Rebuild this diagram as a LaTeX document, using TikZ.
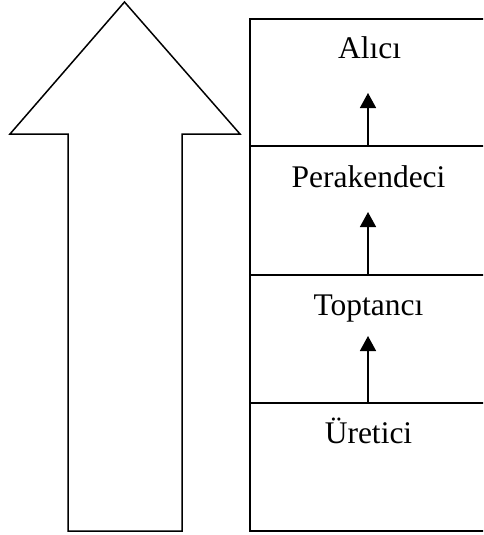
\documentclass[tikz,border=0pt]{standalone}
\usepackage{fontspec}
\setmainfont{Liberation Serif}
\usetikzlibrary{arrows.meta}
\begin{document}
\begin{tikzpicture}[x=1pt,y=-1pt,
  outline/.style={line width=1.5pt,line join=miter},
  level/.style={font=\fontsize{31.5}{36}\selectfont,anchor=base,inner sep=0pt},
  flow/.style={line width=1.5pt,-{Triangle[width=16pt,length=15pt]}}]
\useasboundingbox (0,0) rectangle (483,535);
\clip (0,0) rectangle (483,535);
% big upward arrow
\draw[outline] (124.5,2) -- (240,134) -- (182,134) -- (182,531)
  -- (68,531) -- (68,134) -- (10,134) -- cycle;
% stacked boxes (right side runs past the edge)
\draw[outline] (490,19) -- (250,19) -- (250,531) -- (490,531);
\draw[outline] (250,146) -- (490,146);
\draw[outline] (250,275) -- (490,275);
\draw[outline] (250,403) -- (490,403);
% level labels
\node[level] (alici) at (369.5,59) {Alıcı};
\node[level] (perakendeci) at (368.5,187) {Perakendeci};
\node[level] (toptanci) at (368.5,315) {Toptancı};
\node[level] (uretici) at (368.5,443) {Üretici};
% arrow ends
\coordinate (s1) at (368,403); \coordinate (t1) at (368,336);
\coordinate (s2) at (368,275); \coordinate (t2) at (368,212);
\coordinate (s3) at (368,146); \coordinate (t3) at (368,93);
\draw[flow] (s1) -- (t1);
\draw[flow] (s2) -- (t2);
\draw[flow] (s3) -- (t3);
\end{tikzpicture}
\end{document}
